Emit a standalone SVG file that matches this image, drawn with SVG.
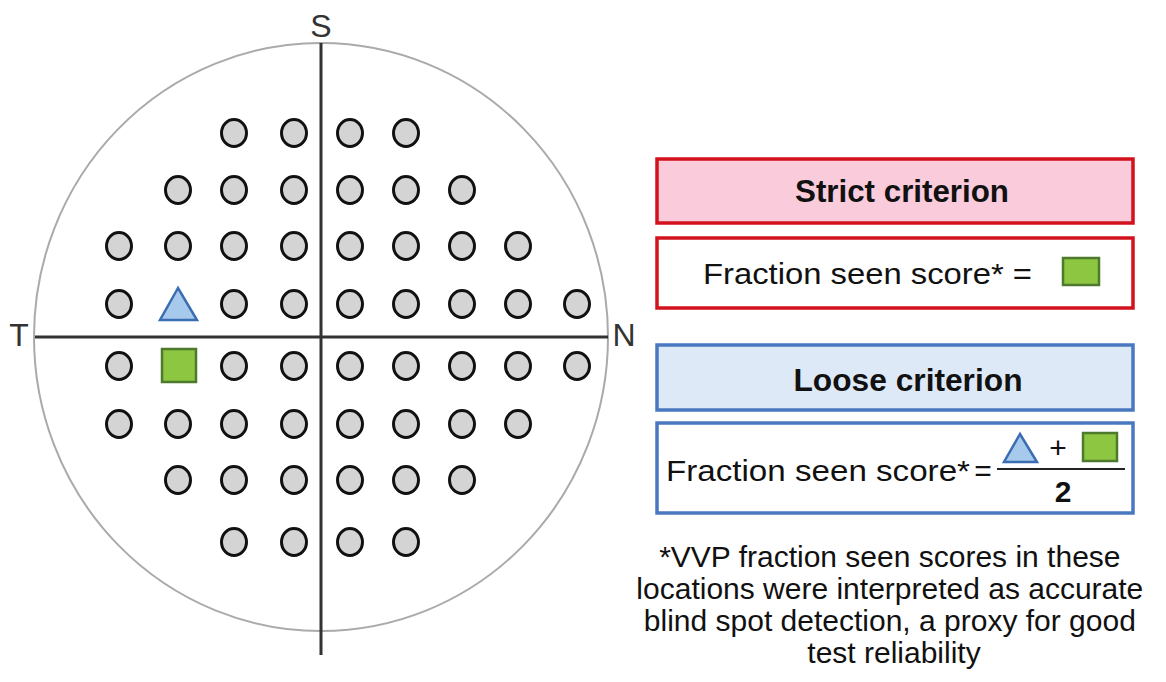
<svg xmlns="http://www.w3.org/2000/svg" width="1166" height="682" viewBox="0 0 1166 682">
<style>
.dot{fill:#d4d4d4;stroke:#111;stroke-width:3}
.axis{stroke:#333;stroke-width:3;fill:none}
.lbl{font-family:"Liberation Sans",Arial,sans-serif;font-size:32px;fill:#333;text-anchor:middle}
.tri{fill:#a7c9ec;stroke:#3b6db3;stroke-width:2.5;stroke-linejoin:miter}
.sq{fill:#8dc641;stroke:#4d7a2c;stroke-width:2.5}
.txt{font-family:"Liberation Sans",Arial,sans-serif;font-size:30px;fill:#111}
.bold{font-weight:bold;text-anchor:middle;font-size:31px}
.red{stroke:#d2121c;stroke-width:3.5}
.blue{stroke:#4a78c0;stroke-width:3.5}
</style>
<rect width="1166" height="682" fill="#fff"/>
<g id="field">
<ellipse cx="321" cy="337" rx="287" ry="294" fill="none" stroke="#aaa" stroke-width="2"/>
<line class="axis" x1="321" y1="43" x2="321" y2="655"/>
<line class="axis" x1="35" y1="337" x2="608" y2="337"/>
<text class="lbl" x="321" y="37">S</text>
<text class="lbl" x="19" y="346">T</text>
<text class="lbl" x="624" y="346">N</text>
</g>
<g id="dots">
<g transform="translate(0,133)">
<ellipse class="dot" cx="234" cy="0" rx="12.5" ry="13.5"/><ellipse class="dot" cx="294" cy="0" rx="12.5" ry="13.5"/><ellipse class="dot" cx="350" cy="0" rx="12.5" ry="13.5"/><ellipse class="dot" cx="406" cy="0" rx="12.5" ry="13.5"/>
</g>
<g transform="translate(0,190)">
<ellipse class="dot" cx="178" cy="0" rx="12.5" ry="13.5"/><ellipse class="dot" cx="234" cy="0" rx="12.5" ry="13.5"/><ellipse class="dot" cx="294" cy="0" rx="12.5" ry="13.5"/><ellipse class="dot" cx="350" cy="0" rx="12.5" ry="13.5"/><ellipse class="dot" cx="406" cy="0" rx="12.5" ry="13.5"/><ellipse class="dot" cx="462" cy="0" rx="12.5" ry="13.5"/>
</g>
<g transform="translate(0,246)">
<ellipse class="dot" cx="119" cy="0" rx="12.5" ry="13.5"/><ellipse class="dot" cx="178" cy="0" rx="12.5" ry="13.5"/><ellipse class="dot" cx="234" cy="0" rx="12.5" ry="13.5"/><ellipse class="dot" cx="294" cy="0" rx="12.5" ry="13.5"/><ellipse class="dot" cx="350" cy="0" rx="12.5" ry="13.5"/><ellipse class="dot" cx="406" cy="0" rx="12.5" ry="13.5"/><ellipse class="dot" cx="462" cy="0" rx="12.5" ry="13.5"/><ellipse class="dot" cx="518" cy="0" rx="12.5" ry="13.5"/>
</g>
<g transform="translate(0,304)">
<ellipse class="dot" cx="119" cy="0" rx="12.5" ry="13.5"/><ellipse class="dot" cx="234" cy="0" rx="12.5" ry="13.5"/><ellipse class="dot" cx="294" cy="0" rx="12.5" ry="13.5"/><ellipse class="dot" cx="350" cy="0" rx="12.5" ry="13.5"/><ellipse class="dot" cx="406" cy="0" rx="12.5" ry="13.5"/><ellipse class="dot" cx="462" cy="0" rx="12.5" ry="13.5"/><ellipse class="dot" cx="518" cy="0" rx="12.5" ry="13.5"/><ellipse class="dot" cx="577" cy="0" rx="12.5" ry="13.5"/>
</g>
<g transform="translate(0,366)">
<ellipse class="dot" cx="119" cy="0" rx="12.5" ry="13.5"/><ellipse class="dot" cx="234" cy="0" rx="12.5" ry="13.5"/><ellipse class="dot" cx="294" cy="0" rx="12.5" ry="13.5"/><ellipse class="dot" cx="350" cy="0" rx="12.5" ry="13.5"/><ellipse class="dot" cx="406" cy="0" rx="12.5" ry="13.5"/><ellipse class="dot" cx="462" cy="0" rx="12.5" ry="13.5"/><ellipse class="dot" cx="518" cy="0" rx="12.5" ry="13.5"/><ellipse class="dot" cx="577" cy="0" rx="12.5" ry="13.5"/>
</g>
<g transform="translate(0,424)">
<ellipse class="dot" cx="119" cy="0" rx="12.5" ry="13.5"/><ellipse class="dot" cx="178" cy="0" rx="12.5" ry="13.5"/><ellipse class="dot" cx="234" cy="0" rx="12.5" ry="13.5"/><ellipse class="dot" cx="294" cy="0" rx="12.5" ry="13.5"/><ellipse class="dot" cx="350" cy="0" rx="12.5" ry="13.5"/><ellipse class="dot" cx="406" cy="0" rx="12.5" ry="13.5"/><ellipse class="dot" cx="462" cy="0" rx="12.5" ry="13.5"/><ellipse class="dot" cx="518" cy="0" rx="12.5" ry="13.5"/>
</g>
<g transform="translate(0,480)">
<ellipse class="dot" cx="178" cy="0" rx="12.5" ry="13.5"/><ellipse class="dot" cx="234" cy="0" rx="12.5" ry="13.5"/><ellipse class="dot" cx="294" cy="0" rx="12.5" ry="13.5"/><ellipse class="dot" cx="350" cy="0" rx="12.5" ry="13.5"/><ellipse class="dot" cx="406" cy="0" rx="12.5" ry="13.5"/><ellipse class="dot" cx="462" cy="0" rx="12.5" ry="13.5"/>
</g>
<g transform="translate(0,542)">
<ellipse class="dot" cx="234" cy="0" rx="12.5" ry="13.5"/><ellipse class="dot" cx="294" cy="0" rx="12.5" ry="13.5"/><ellipse class="dot" cx="350" cy="0" rx="12.5" ry="13.5"/><ellipse class="dot" cx="406" cy="0" rx="12.5" ry="13.5"/>
</g>
</g>
<g id="blindspot">
<polygon class="tri" points="178,288 160,320 197,320"/>
<rect class="sq" x="162" y="349" width="34" height="33"/>
</g>
<g id="strict-header">
<rect class="red" x="657" y="159" width="476" height="64" fill="#f9cbdb"/>
<text class="txt bold" x="902" y="202" textLength="214" lengthAdjust="spacingAndGlyphs">Strict criterion</text>
</g>
<g id="strict-formula">
<rect class="red" x="657" y="238" width="476" height="70" fill="#fff"/>
<text class="txt" x="703" y="284" font-size="31" textLength="329" lengthAdjust="spacingAndGlyphs">Fraction seen score* =</text>
<rect class="sq" x="1063" y="258" width="36" height="27" stroke-width="2"/>
</g>
<g id="loose-header">
<rect class="blue" x="657" y="345" width="476" height="65" fill="#dde9f6"/>
<text class="txt bold" x="908" y="391" textLength="229" lengthAdjust="spacingAndGlyphs">Loose criterion</text>
</g>
<g id="loose-formula">
<rect class="blue" x="657" y="423" width="476" height="90" fill="#fff"/>
<text class="txt" x="666" y="481" font-size="32" textLength="304" lengthAdjust="spacingAndGlyphs">Fraction seen score*</text>
<text class="txt" x="983" y="481" font-size="32" text-anchor="middle">=</text>
<line x1="997" y1="469" x2="1125" y2="469" stroke="#222" stroke-width="2"/>
<polygon class="tri" points="1020,434 1004,462 1037,462" stroke-width="2"/>
<text class="txt" x="1058" y="458" text-anchor="middle" font-size="26">+</text>
<rect class="sq" x="1083" y="433" width="34" height="28" stroke-width="2"/>
<text class="txt" x="1063" y="502" text-anchor="middle" font-weight="bold" font-size="22">2</text>
</g>
<g id="footnote">
<text class="txt" text-anchor="middle" x="894">
<tspan x="894" y="567">*VVP fraction seen scores in these</tspan>
<tspan x="894" y="599">locations were interpreted as accurate</tspan>
<tspan x="894" y="631">blind spot detection, a proxy for good</tspan>
<tspan x="894" y="663">test reliability</tspan>
</text>
</g>
</svg>
